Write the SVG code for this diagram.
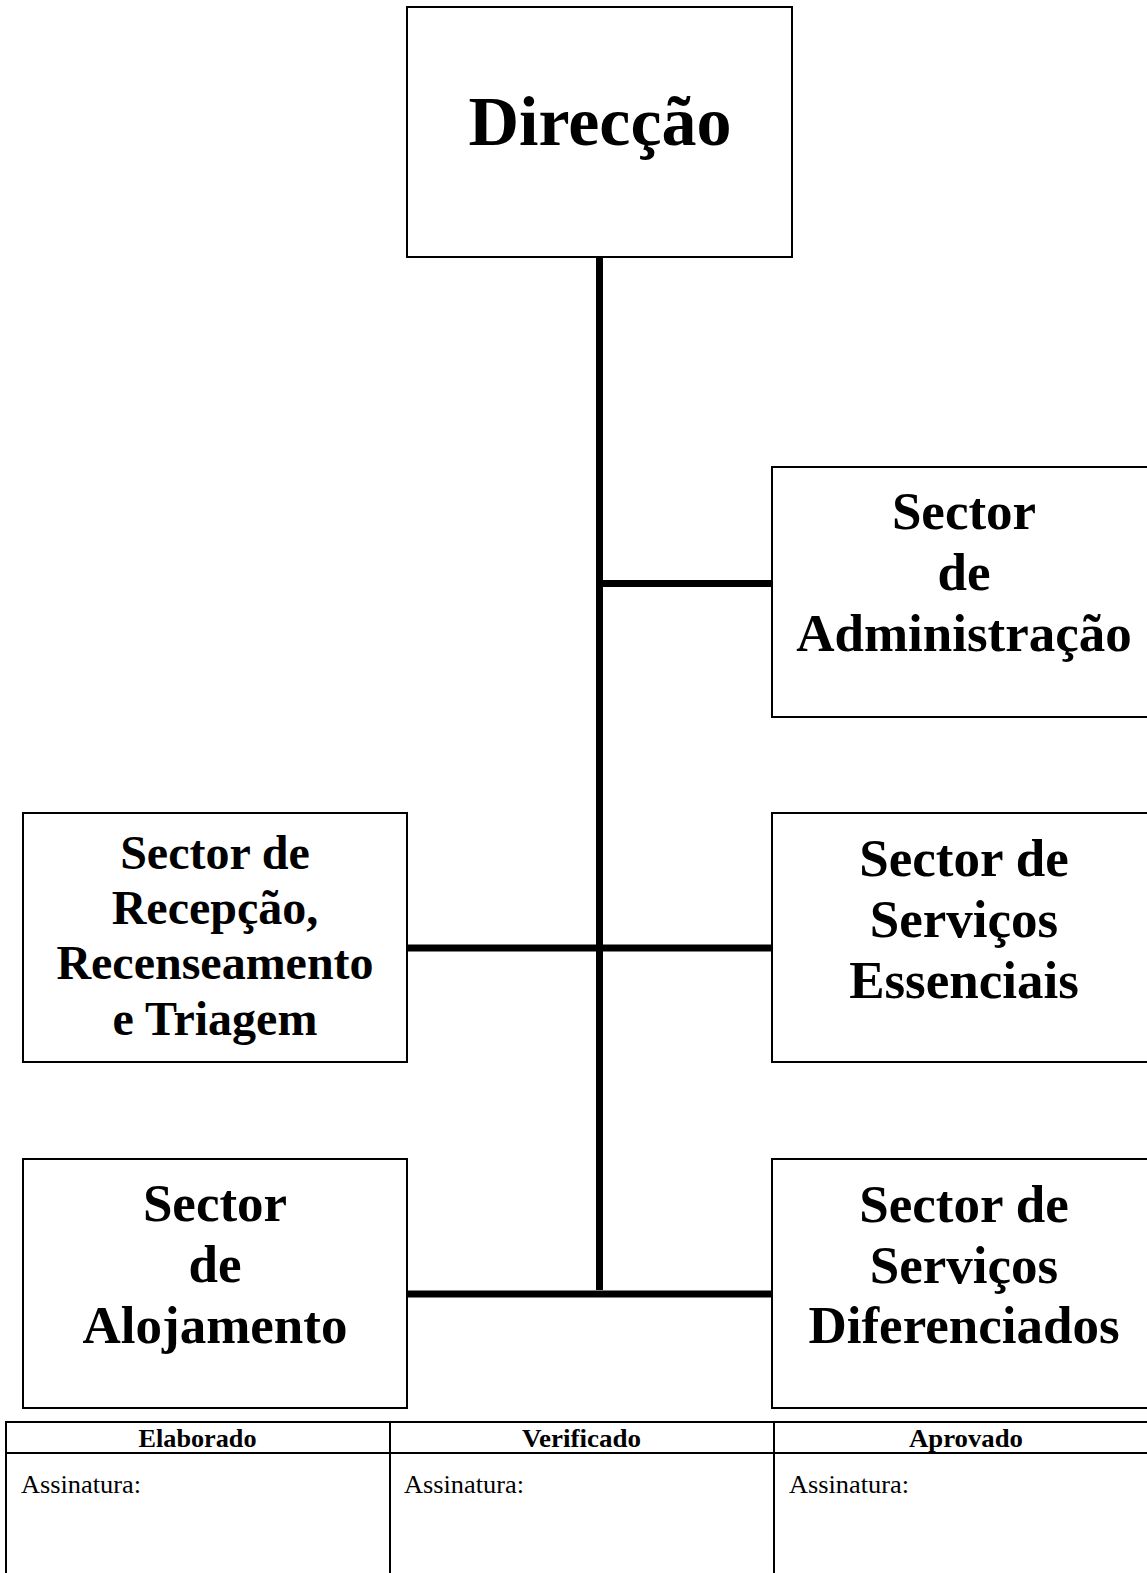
<svg xmlns="http://www.w3.org/2000/svg" width="1147" height="1573" viewBox="0 0 1147 1573">
<style>
.box{fill:#fff;stroke:#000;stroke-width:2}
.t{font-family:"Liberation Serif","Times New Roman",serif;font-weight:bold;text-anchor:middle;fill:#000}
.conn{stroke:#000;stroke-width:7;fill:none}
.tbl{stroke:#000;stroke-width:2;fill:none}
.th{font-family:"Liberation Serif","Times New Roman",serif;font-weight:bold;font-size:25px;text-anchor:middle;fill:#000}
.td{font-family:"Liberation Serif","Times New Roman",serif;font-size:25px;fill:#000}
</style>
<rect width="1147" height="1573" fill="#fff"/>
<g id="connectors">
<line class="conn" x1="599.5" y1="257" x2="599.5" y2="1290"/>
<line class="conn" x1="599.5" y1="583.5" x2="772" y2="583.5"/>
<line class="conn" x1="407" y1="948" x2="772" y2="948"/>
<line class="conn" x1="407" y1="1294" x2="772" y2="1294"/>
</g>
<g id="direccao">
<rect class="box" x="407" y="7" width="385" height="250"/>
<text class="t" x="600" y="145" font-size="70">Direcção</text>
</g>
<g id="administracao">
<rect class="box" x="772" y="467" width="385" height="250"/>
<text class="t" font-size="53"><tspan x="964" y="529">Sector</tspan><tspan x="964" y="590">de</tspan><tspan x="964" y="651">Administração</tspan></text>
</g>
<g id="recepcao">
<rect class="box" x="23" y="813" width="384" height="249"/>
<text class="t" font-size="48"><tspan x="215" y="869">Sector de</tspan><tspan x="215" y="924">Recepção,</tspan><tspan x="215" y="979">Recenseamento</tspan><tspan x="215" y="1035">e Triagem</tspan></text>
</g>
<g id="essenciais">
<rect class="box" x="772" y="813" width="385" height="249"/>
<text class="t" font-size="53"><tspan x="964" y="876">Sector de</tspan><tspan x="964" y="937">Serviços</tspan><tspan x="964" y="998">Essenciais</tspan></text>
</g>
<g id="alojamento">
<rect class="box" x="23" y="1159" width="384" height="249"/>
<text class="t" font-size="53"><tspan x="215" y="1221">Sector</tspan><tspan x="215" y="1282">de</tspan><tspan x="215" y="1343">Alojamento</tspan></text>
</g>
<g id="diferenciados">
<rect class="box" x="772" y="1159" width="385" height="249"/>
<text class="t" font-size="53"><tspan x="964" y="1222">Sector de</tspan><tspan x="964" y="1283">Serviços</tspan><tspan x="964" y="1343">Diferenciados</tspan></text>
</g>
<g id="tabela">
<line class="tbl" x1="5" y1="1422" x2="1147" y2="1422"/>
<line class="tbl" x1="5" y1="1453" x2="1147" y2="1453"/>
<line class="tbl" x1="6" y1="1421" x2="6" y2="1573"/>
<line class="tbl" x1="390" y1="1421" x2="390" y2="1573"/>
<line class="tbl" x1="774" y1="1421" x2="774" y2="1573"/>
<text class="th" x="197.5" y="1447" textLength="118" lengthAdjust="spacingAndGlyphs">Elaborado</text>
<text class="th" x="581.5" y="1447" textLength="119" lengthAdjust="spacingAndGlyphs">Verificado</text>
<text class="th" x="966" y="1447" textLength="114" lengthAdjust="spacingAndGlyphs">Aprovado</text>
<text class="td" x="21" y="1493" textLength="120" lengthAdjust="spacingAndGlyphs">Assinatura:</text>
<text class="td" x="404" y="1493" textLength="120" lengthAdjust="spacingAndGlyphs">Assinatura:</text>
<text class="td" x="789" y="1493" textLength="120" lengthAdjust="spacingAndGlyphs">Assinatura:</text>
</g>
</svg>
